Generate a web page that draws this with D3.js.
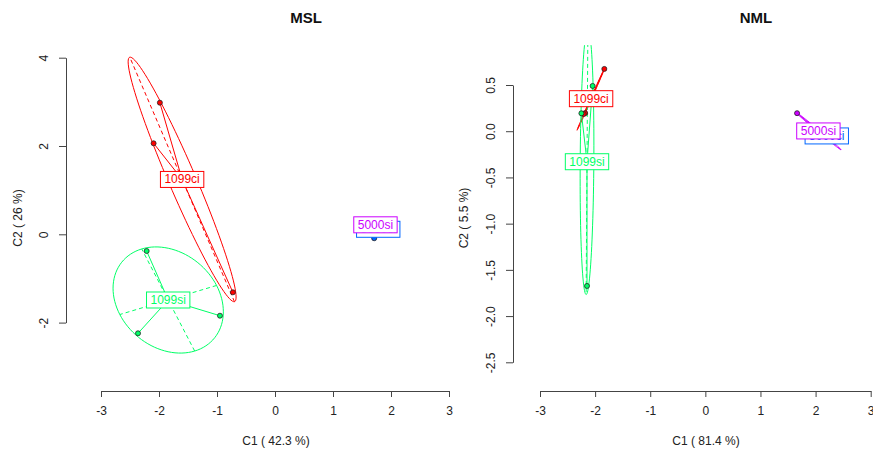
<!DOCTYPE html>
<html>
<head>
<meta charset="utf-8">
<title></title>
<script src="https://d3js.org/d3.v7.min.js"></script>
<style>
  body { margin: 0; background: #fff; }
  svg { font-family: "Liberation Sans", Arial, sans-serif; }
</style>
</head>
<body>
<div id="chart"></div>
<script>
// groups and colours
var groupNames = ["1099ci", "1099si", "5000ci", "5000si"];
var groupColors = ["#ff0000", "#00ff66", "#0066ff", "#cc00ff"];

// MSL scores (C1, C2) and group of each row
var mslX = [-1.985, -2.093, -0.726,   -2.213, -2.362, -0.949,   1.71, 1.81, 1.82,   1.70, 1.75, 1.746];
var mslY = [ 2.981,  2.061, -1.314,   -0.378, -2.242, -1.844,  -0.09, 0.21, 0.22,   0.23, 0.20, 0.215];
var mslGroup = [0, 0, 0, 1, 1, 1, 2, 2, 2, 3, 3, 3];
var mslTicksX = [-3, -2, -1, 0, 1, 2, 3];
var mslTicksY = [-2, 0, 2, 4];

// NML scores
var nmlX = [-1.833, -2.180, -2.206,   -2.045, -2.147, -2.249,   2.17, 2.22, 2.219,   1.664, 2.232, 2.257];
var nmlY = [ 0.674,  0.196,  0.186,    0.490, -1.674,  0.194,  -0.04, -0.06, -0.053,  0.195, -0.098, -0.088];
var nmlGroup = [0, 0, 0, 1, 1, 1, 2, 2, 2, 3, 3, 3];
var nmlTicksX = [-3, -2, -1, 0, 1, 2, 3];
var nmlTicksY = [-2.5, -2, -1.5, -1, -0.5, 0, 0.5];

var W = 873, H = 449;

var panels = [
  { title: "MSL", xs: mslX, ys: mslY, grp: mslGroup, tx: mslTicksX, ty: mslTicksY,
    xlab: "C1 ( 42.3 %)", ylab: "C2 ( 26 %)", yfmt: function(d) { return String(d); },
    xr: [101, 449], yd: [-2, 4], yr: [322.6, 57.7],
    axisX: 66, axisY: 391, clip: [66, 45, 420, 346], titleX: 306, xlabX: 276, ylabX: 18 },
  { title: "NML", xs: nmlX, ys: nmlY, grp: nmlGroup, tx: nmlTicksX, ty: nmlTicksY,
    xlab: "C1 ( 81.4 %)", ylab: "C2 ( 5.5 %)", yfmt: function(d) { return d.toFixed(1); },
    xr: [540, 870.7], yd: [-2.5, 0.5], yr: [362.3, 85],
    axisX: 513, axisY: 391, clip: [513, 45, 360, 346], titleX: 756, xlabX: 706, ylabX: 464 }
];

var svg = d3.select("#chart").append("svg")
  .attr("width", W)
  .attr("height", H);

// covariance ellipse, same recipe as ade4 util.ellipse
function ellipse(px, py, coeff) {
  var mx = d3.mean(px), my = d3.mean(py);
  var vx = d3.mean(px, function(d) { return (d - mx) * (d - mx); });
  var vy = d3.mean(py, function(d) { return (d - my) * (d - my); });
  var cxy = d3.mean(px.map(function(d, i) { return (d - mx) * (py[i] - my); }));
  var delta = Math.sqrt((vx - vy) * (vx - vy) + 4 * cxy * cxy);
  var l1 = (vx + vy + delta) / 2;
  var l2 = vx + vy - l1;
  l1 = Math.sqrt(Math.max(l1, 0));
  l2 = Math.sqrt(Math.max(l2, 0));
  var a0, b0;
  if (Math.abs(cxy) < 1e-10) {
    if (vx > vy) { a0 = 1; b0 = 0; } else { a0 = 0; b0 = 1; }
  } else {
    a0 = 1;
    b0 = (l1 * l1 - vx) / cxy;
    var nrm = Math.sqrt(a0 * a0 + b0 * b0);
    a0 /= nrm; b0 /= nrm;
  }
  var c11 = coeff * a0 * l1, c12 = -coeff * b0 * l2;
  var c21 = coeff * b0 * l1, c22 = coeff * a0 * l2;
  var pts = d3.range(100).map(function(i) {
    var a = i * 2 * Math.PI / 100;
    return [mx + c11 * Math.cos(a) + c12 * Math.sin(a), my + c21 * Math.cos(a) + c22 * Math.sin(a)];
  });
  return { mx: mx, my: my, pts: pts,
    seg1: [mx + c11, my + c21, mx - c11, my - c21],
    seg2: [mx + c12, my + c22, mx - c12, my - c22] };
}

panels.forEach(function(p, pi) {
  var x = d3.scaleLinear().domain([-3, 3]).range(p.xr);
  var y = d3.scaleLinear().domain(p.yd).range(p.yr);

  // title
  svg.append("text")
    .attr("x", p.titleX).attr("y", 23)
    .attr("text-anchor", "middle")
    .style("font-size", "15px").style("font-weight", "bold").style("fill", "#111")
    .text(p.title);

  // x axis
  var xAxis = d3.axisBottom(x).tickValues(p.tx).tickSize(6).tickSizeOuter(0).tickPadding(9)
    .tickFormat(function(d) { return String(d); });
  var gx = svg.append("g").attr("transform", "translate(0," + p.axisY + ")").call(xAxis);
  gx.selectAll("path, line").style("stroke", "#444");
  gx.selectAll("text").style("font-size", "12px").style("fill", "#222")
    .style("font-family", "Liberation Sans, Arial, sans-serif");

  // y axis, labels parallel to the axis
  var yAxis = d3.axisLeft(y).tickValues(p.ty).tickSize(7).tickSizeOuter(0).tickFormat(p.yfmt);
  var gy = svg.append("g").attr("transform", "translate(" + p.axisX + ",0)").call(yAxis);
  gy.selectAll("path, line").style("stroke", "#444");
  gy.selectAll("text")
    .attr("x", 0).attr("y", -22).attr("dy", null)
    .attr("transform", "rotate(-90)")
    .attr("text-anchor", "middle").attr("dominant-baseline", "central")
    .style("font-size", "12px").style("fill", "#222")
    .style("font-family", "Liberation Sans, Arial, sans-serif");

  // axis titles
  svg.append("text")
    .attr("x", p.xlabX).attr("y", 445)
    .attr("text-anchor", "middle")
    .style("font-size", "12px").style("fill", "#222")
    .text(p.xlab);
  svg.append("text")
    .attr("transform", "translate(" + p.ylabX + ",218) rotate(-90)")
    .attr("text-anchor", "middle").attr("dominant-baseline", "central")
    .style("font-size", "12px").style("fill", "#222")
    .text(p.ylab);

  // plot region clip
  svg.append("clipPath").attr("id", "clip" + pi)
    .append("rect")
    .attr("x", p.clip[0]).attr("y", p.clip[1])
    .attr("width", p.clip[2]).attr("height", p.clip[3]);
  var plot = svg.append("g").attr("clip-path", "url(#clip" + pi + ")");

  var fits = groupNames.map(function(name, g) {
    var idx = d3.range(p.xs.length).filter(function(i) { return p.grp[i] === g; });
    return { g: g, idx: idx, e: ellipse(idx.map(function(i) { return p.xs[i]; }),
                                        idx.map(function(i) { return p.ys[i]; }), 1.5) };
  });

  var line = d3.line().x(function(d) { return x(d[0]); }).y(function(d) { return y(d[1]); });

  fits.forEach(function(f) {
    var col = groupColors[f.g];
    // stars
    f.idx.forEach(function(i) {
      plot.append("line")
        .attr("x1", x(f.e.mx)).attr("y1", y(f.e.my))
        .attr("x2", x(p.xs[i])).attr("y2", y(p.ys[i]))
        .style("stroke", col).style("stroke-width", 1);
    });
    // ellipse
    plot.append("path")
      .attr("d", line(f.e.pts) + "Z")
      .style("fill", "none").style("stroke", col).style("stroke-width", 1);
    [f.e.seg1, f.e.seg2].forEach(function(s) {
      plot.append("line")
        .attr("x1", x(s[0])).attr("y1", y(s[1]))
        .attr("x2", x(s[2])).attr("y2", y(s[3]))
        .style("stroke", col).style("stroke-width", 1).style("stroke-dasharray", "4,3");
    });
  });

  // points
  plot.selectAll("circle.pt")
    .data(d3.range(p.xs.length))
    .enter().append("circle")
    .attr("class", "pt")
    .attr("cx", function(i) { return x(p.xs[i]); })
    .attr("cy", function(i) { return y(p.ys[i]); })
    .attr("r", 2.5)
    .style("fill", function(i) { return groupColors[p.grp[i]]; })
    .style("stroke", "#222").style("stroke-width", 0.8);

  // group labels at the centroids
  fits.forEach(function(f) {
    var col = groupColors[f.g];
    var lg = plot.append("g");
    var t = lg.append("text")
      .attr("x", x(f.e.mx)).attr("y", y(f.e.my))
      .attr("text-anchor", "middle").attr("dominant-baseline", "central")
      .style("font-size", "12px").style("fill", col)
      .text(groupNames[f.g]);
    var w = t.node().getComputedTextLength();
    lg.insert("rect", "text")
      .attr("x", x(f.e.mx) - w / 2 - 4).attr("y", y(f.e.my) - 8)
      .attr("width", w + 8).attr("height", 16)
      .style("fill", "#fff").style("stroke", col).style("stroke-width", 1);
  });
});
</script>
</body>
</html>
